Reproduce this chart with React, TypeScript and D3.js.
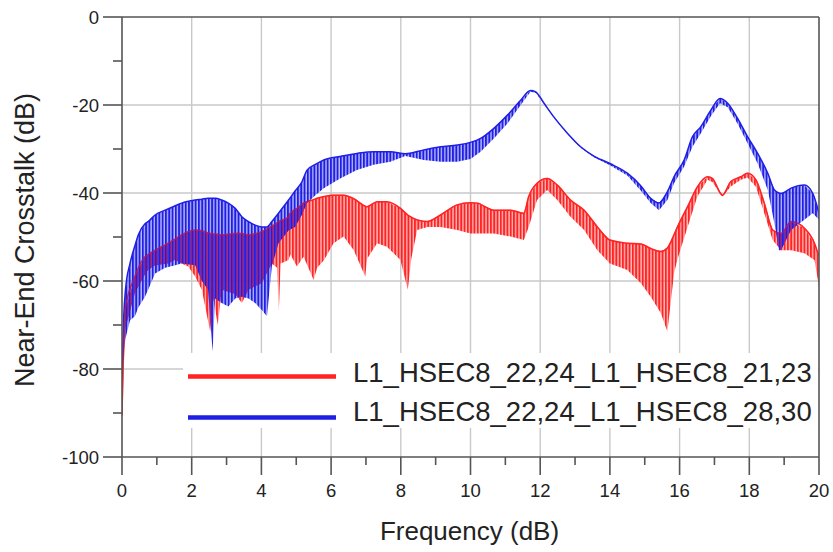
import React from "react";
import * as d3 from "d3";

// ---- data ----
// Frequency (GHz) sample points with upper / lower envelope of the oscillating trace (dB)
const redFreq = [0, 0.05, 0.09, 0.37, 0.66, 0.75, 0.95, 1.33, 1.52, 1.71, 1.9, 2.1, 2.29, 2.53, 2.62, 2.75, 2.86, 3.25, 3.44, 3.63, 4.01, 4.3, 4.45, 4.5, 4.55, 4.78, 4.83, 5.02, 5.21, 5.5, 5.6, 5.8, 6.07, 6.36, 6.65, 6.98, 7.03, 7.32, 7.6, 7.99, 8.2, 8.3, 8.47, 8.76, 9.14, 9.62, 10.0, 10.19, 10.67, 11.15, 11.53, 11.67, 11.91, 12.2, 12.49, 12.87, 13.26, 13.64, 14.0, 14.5, 14.89, 15.17, 15.46, 15.65, 15.84, 15.94, 16.23, 16.51, 16.8, 16.94, 17.23, 17.47, 17.76, 17.95, 18.19, 18.43, 18.67, 18.91, 19.2, 19.58, 19.87, 20.0];
const redUpper = [-90.5, -72, -66.6, -59, -54.5, -54, -53, -51.4, -50.5, -49.5, -48.8, -48.4, -48.6, -49.2, -49.3, -49.4, -49.5, -49.2, -49.2, -49.5, -48.8, -47.5, -46.8, -46.5, -46.3, -45.4, -44.6, -43.5, -42.3, -41.5, -41.2, -40.8, -40.5, -40.5, -41.3, -43, -43.1, -42, -42, -43.5, -45, -45.5, -46.1, -46.5, -45, -42.7, -42.2, -42.3, -43.9, -43.9, -44.6, -40.8, -37.8, -36.7, -38.2, -41.6, -43.9, -47.7, -50.7, -51.4, -51.6, -52.6, -53.3, -52.5, -49.5, -47.7, -43.1, -38.6, -36.3, -36.7, -40.5, -37.4, -36.3, -35.5, -37, -42.3, -48.4, -49.2, -46.5, -48, -51.4, -54.5];
const redLower = [-90.5, -80, -71, -62.8, -58.5, -57.5, -56.5, -56, -55.2, -56, -56.7, -59, -62, -71.5, -64, -70, -62, -63, -65, -62, -60.5, -56, -57, -67, -56, -55.2, -54, -56.7, -54.5, -59.8, -57, -55.2, -51.4, -49.9, -53, -59, -55, -51.4, -52.2, -55.2, -62, -55, -48.4, -47.7, -47.7, -48.4, -49.2, -49.2, -49.2, -49.9, -50.7, -47.7, -41.6, -39.3, -41.6, -45.4, -48.4, -53, -56, -57.5, -60.5, -63.6, -67.3, -71.5, -58.3, -55, -47.7, -40.8, -37, -37.5, -40.8, -38.5, -37, -36.5, -38.6, -44.6, -50.7, -53, -53, -53.7, -55.2, -61.3];

const blueFreq = [0, 0.05, 0.1, 0.23, 0.37, 0.47, 0.66, 0.75, 0.95, 1.24, 1.5, 1.71, 2.1, 2.29, 2.47, 2.6, 2.67, 2.86, 3.05, 3.25, 3.44, 3.63, 3.82, 4.01, 4.16, 4.3, 4.49, 4.78, 4.97, 5.16, 5.31, 5.55, 5.79, 6.26, 6.74, 7.22, 7.7, 8.13, 8.66, 9.14, 9.62, 10.0, 10.29, 10.67, 11.06, 11.44, 11.72, 11.87, 12.11, 12.39, 12.78, 13.16, 13.54, 14.0, 14.5, 14.89, 15.17, 15.41, 15.65, 15.84, 16.13, 16.37, 16.61, 16.9, 17.16, 17.38, 17.66, 17.95, 18.24, 18.53, 18.72, 18.85, 18.91, 19.2, 19.58, 19.82, 20.0];
const blueUpper = [-82, -68, -62, -56, -52, -49.5, -47, -46.5, -45, -43.9, -43, -42.3, -41.6, -41.4, -41.2, -41.2, -41.2, -41.6, -42.3, -43.5, -45.4, -46.5, -47.3, -47.7, -47.7, -46.5, -44.6, -41.6, -39.5, -37.5, -34.8, -33.5, -32.5, -31.7, -31, -30.6, -30.6, -31.1, -30.2, -29.5, -29.1, -28.5, -27.6, -25.3, -22.3, -18.9, -16.7, -17, -19.6, -22.7, -26.4, -29.5, -31.6, -33.3, -35.5, -38.4, -41.2, -42.3, -39.7, -36.3, -32.5, -27.2, -24.9, -21.1, -18.5, -19.6, -23, -27.2, -31, -35.5, -39.3, -40, -40.1, -38.9, -38.2, -40.1, -44.6];
const blueLower = [-82, -76, -73, -69, -68, -66, -63.6, -62, -58.3, -57, -56.5, -56, -56.4, -60, -62, -76, -64, -65, -65.8, -64, -63.6, -64, -65, -66.6, -68, -56.7, -51.4, -48.5, -47.7, -45, -42.3, -40.5, -38.9, -36.7, -34.8, -33.6, -32.9, -31.6, -32.5, -32.9, -32.9, -32.3, -30.6, -27.6, -24.2, -20, -17, -17.2, -19.8, -22.9, -26.6, -29.7, -31.9, -33.7, -36, -39.5, -42.3, -43.9, -41.6, -37.8, -34, -29.5, -26.4, -22.5, -19.6, -20.5, -24.2, -28.7, -33.3, -39.3, -46.9, -53, -53, -48.4, -46.1, -44.6, -46.1];

const xTicks = [0, 2, 4, 6, 8, 10, 12, 14, 16, 18, 20];
const xMinor = [1, 3, 5, 7, 9, 11, 13, 15, 17, 19];
const yTicks = [0, -20, -40, -60, -80, -100];
const yMinor = [-10, -30, -50, -70, -90];

const legendLabels = ["L1_HSEC8_22,24_L1_HSEC8_21,23", "L1_HSEC8_22,24_L1_HSEC8_28,30"];
const xTitle = "Frequency (dB)";
const yTitle = "Near-End Crosstalk (dB)";

const RED = "#ff2323";
const BLUE = "#1e1ee6";
const FONT = "'Liberation Sans', Arial, Helvetica, sans-serif";

export default function App() {
  const W = 833, H = 552;
  const left = 122, right = 819, top = 17, bottom = 457;
  const x = d3.scaleLinear().domain([0, 20]).range([left, right]);
  const y = d3.scaleLinear().domain([-100, 0]).range([bottom, top]);

  const mk = (fr: number[], up: number[], lo: number[]) => {
    const pts = fr.map((f, i) => ({ f, u: up[i], l: lo[i] }));
    const area = d3.area<any>().x(d => x(d.f)).y0(d => y(d.l)).y1(d => y(d.u)).curve(d3.curveLinear)(pts) || "";
    const line = d3.line<any>().x(d => x(d.f)).y(d => y(d.u)).curve(d3.curveMonotoneX)(pts) || "";
    return { area, line };
  };
  const red = mk(redFreq, redUpper, redLower);
  const blue = mk(blueFreq, blueUpper, blueLower);

  const axisColor = "#555";
  const gridColor = "#c9c9c9";

  return (
    <svg width={W} height={H} style={{ position: "absolute", left: 0, top: 0, background: "#fff" }} fontFamily={FONT}>
      <defs>
        <pattern id="stripeRed" patternUnits="userSpaceOnUse" width={3.3} height={20} x={1.6}>
          <rect width={3.3} height={20} fill={RED} opacity={0.32} />
          <rect width={1.9} height={20} fill={RED} />
        </pattern>
        <pattern id="stripeBlue" patternUnits="userSpaceOnUse" width={3.3} height={20}>
          <rect width={3.3} height={20} fill={BLUE} opacity={0.32} />
          <rect width={1.9} height={20} fill={BLUE} />
        </pattern>
        <clipPath id="plotClip">
          <rect x={left} y={top} width={right - left} height={bottom - top} />
        </clipPath>
      </defs>
      <rect width={W} height={H} fill="#fff" />
      {/* grid */}
      {xTicks.filter(t => t > 0 && t < 20).map(t => (
        <line key={"gx" + t} x1={x(t)} x2={x(t)} y1={top} y2={bottom} stroke={gridColor} strokeWidth={1.4} />
      ))}
      {yTicks.filter(t => t < 0 && t > -100).map(t => (
        <line key={"gy" + t} x1={left} x2={right} y1={y(t)} y2={y(t)} stroke={gridColor} strokeWidth={1.4} />
      ))}
      {/* traces */}
      <g clipPath="url(#plotClip)">
        <path d={red.area} fill="url(#stripeRed)" />
        <path d={red.line} fill="none" stroke={RED} strokeWidth={1.5} />
        <path d={blue.area} fill="url(#stripeBlue)" />
        <path d={blue.line} fill="none" stroke={BLUE} strokeWidth={1.5} />
        <path d={red.line} fill="none" stroke={RED} strokeWidth={1.3} opacity={0.45} />
      </g>
      {/* frame */}
      <line x1={left} x2={right} y1={top} y2={top} stroke={axisColor} strokeWidth={1.6} />
      <line x1={right} x2={right} y1={top} y2={bottom} stroke={axisColor} strokeWidth={1.6} />
      <line x1={left} x2={left} y1={top} y2={bottom} stroke={axisColor} strokeWidth={1.6} />
      <line x1={left} x2={right} y1={bottom} y2={bottom} stroke={axisColor} strokeWidth={1.6} />
      {/* y ticks */}
      {yTicks.map(t => (
        <g key={"yt" + t}>
          <line x1={left - 19} x2={left} y1={y(t)} y2={y(t)} stroke={axisColor} strokeWidth={1.6} />
          <text x={99} y={y(t)} dy="0.36em" textAnchor="end" fontSize={18.5} fill="#222">{t}</text>
        </g>
      ))}
      {yMinor.map(t => (
        <line key={"ym" + t} x1={left - 9} x2={left} y1={y(t)} y2={y(t)} stroke={axisColor} strokeWidth={1.6} />
      ))}
      {/* x ticks */}
      {xTicks.map(t => (
        <g key={"xt" + t}>
          <line x1={x(t)} x2={x(t)} y1={bottom} y2={bottom + 18} stroke={axisColor} strokeWidth={1.6} />
          <text x={x(t)} y={497} textAnchor="middle" fontSize={18.5} fill="#222">{t}</text>
        </g>
      ))}
      {xMinor.map(t => (
        <line key={"xm" + t} x1={x(t)} x2={x(t)} y1={bottom} y2={bottom + 8} stroke={axisColor} strokeWidth={1.6} />
      ))}
      {/* titles */}
      <text x={(left + right) / 2 - 1} y={540} textAnchor="middle" fontSize={26} fill="#222">{xTitle}</text>
      <text transform={`translate(34,${(top + bottom) / 2 + 3}) rotate(-90)`} textAnchor="middle" fontSize={27} fill="#222">{yTitle}</text>
      {/* legend */}
      <rect x={183} y={353} width={right - 183 - 1} height={75} fill="#fff" />
      <line x1={188} x2={336} y1={376.5} y2={376.5} stroke={RED} strokeWidth={4.5} />
      <line x1={188} x2={336} y1={417.5} y2={417.5} stroke={BLUE} strokeWidth={4.5} />
      <text x={353} y={382} fontSize={27.5} fill="#222">{legendLabels[0]}</text>
      <text x={353} y={420.5} fontSize={27.5} fill="#222">{legendLabels[1]}</text>
    </svg>
  );
}
